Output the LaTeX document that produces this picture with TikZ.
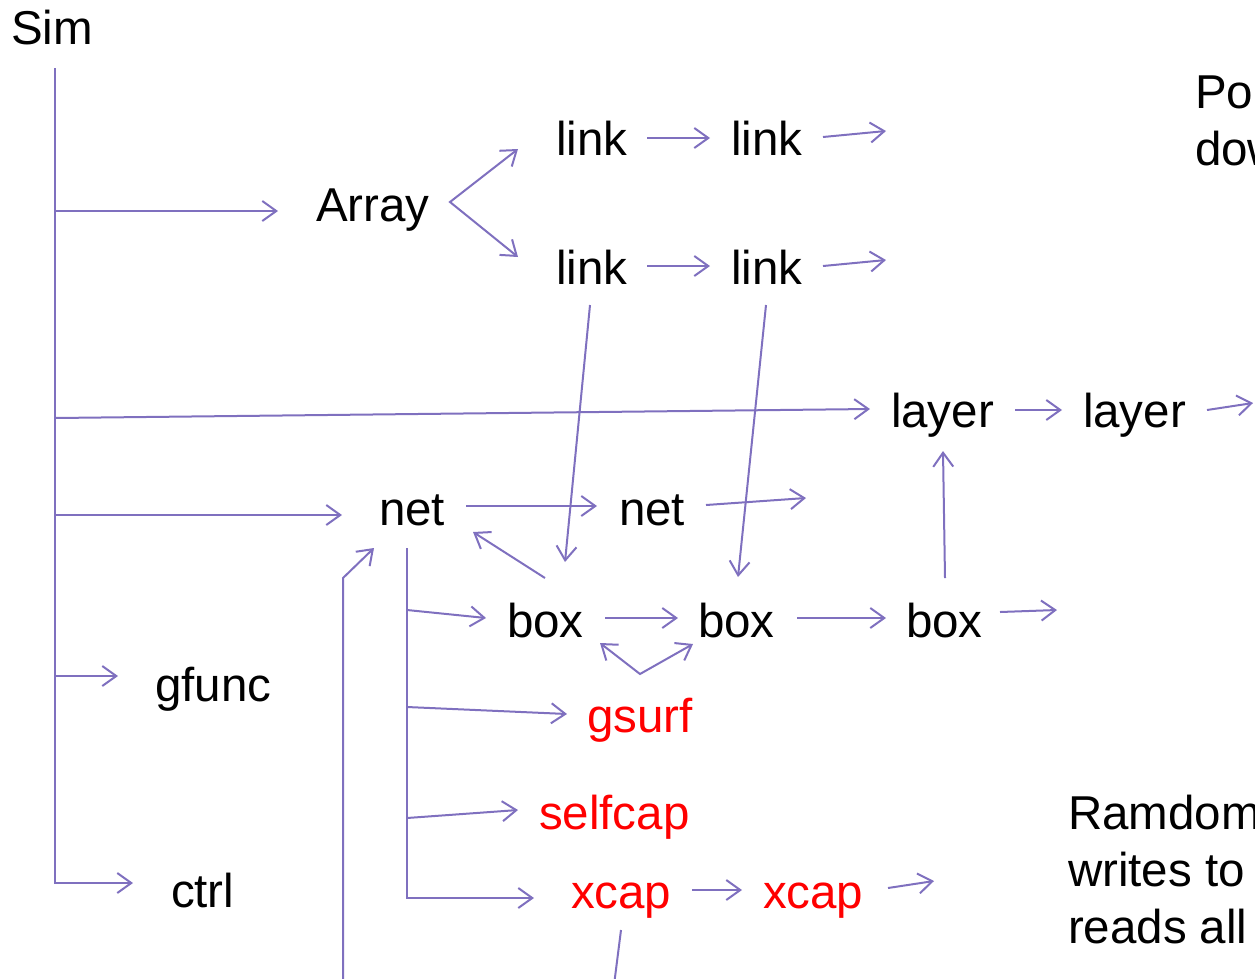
\documentclass[tikz,border=0pt]{standalone}
\usepackage{fontspec}
\setmainfont{Liberation Sans}
\usetikzlibrary{arrows.meta,calc}
\definecolor{lnk}{RGB}{127,112,191}
\begin{document}
\begin{tikzpicture}[x=1pt,y=-1pt,
  lbl/.style={inner sep=0pt,outer sep=0pt,anchor=base west,font=\fontsize{47.5}{57}\selectfont},
  hot/.style={text=red},
  ln/.style={draw=lnk,line width=2pt},
  arr/.style={draw=lnk,line width=2pt,-{Straight Barb[length=14pt,width=20pt]}},
  darr/.style={draw=lnk,line width=2pt,{Straight Barb[length=14pt,width=20pt]}-{Straight Barb[length=14pt,width=20pt]}}]
\useasboundingbox (0,0) rectangle (1255,978);
\clip (0,0) rectangle (1255,978);
% texts
\node[lbl] (sim) at (11,44) {Sim};
\node[lbl] (array) at (316,221) {Array};
\node[lbl] (link1) at (556,155) {link};
\node[lbl] (link2) at (731,155) {link};
\node[lbl] (link3) at (556,284) {link};
\node[lbl] (link4) at (731,284) {link};
\node[lbl] (layer1) at (891,427) {layer};
\node[lbl] (layer2) at (1083,427) {layer};
\node[lbl] (net1) at (379,525) {net};
\node[lbl] (net2) at (619,525) {net};
\node[lbl] (box1) at (507,637) {box};
\node[lbl] (box2) at (698,637) {box};
\node[lbl] (box3) at (906,637) {box};
\node[lbl] (gfunc) at (155,701) {gfunc};
\node[lbl,hot] (gsurf) at (587,732) {gsurf};
\node[lbl,hot] (selfcap) at (539,829) {selfcap};
\node[lbl] (ctrl) at (171,907) {ctrl};
\node[lbl,hot] (xcap1) at (571,908) {xcap};
\node[lbl,hot] (xcap2) at (763,908) {xcap};
\node[lbl] (note1) at (1195,108) {Po};
\node[lbl] (note2) at (1195,165) {dow};
\node[lbl] (note3) at (1068,829) {Ramdom};
\node[lbl] (note4) at (1068,886) {writes to};
\node[lbl] (note5) at (1068,943) {reads all};
% trunk
\coordinate (trunk) at (55,44);
\draw[arr] ($(trunk)+(0,24)$) |- ($(ctrl.base west)+(-38,-24)$);
\draw[arr] ($(trunk)+(0,167)$) -- ($(array.base west)+(-38,-10)$);
\draw[arr] ($(trunk)+(0,374)$) -- ($(layer1.base west)+(-21,-18)$);
\draw[arr] ($(trunk)+(0,471)$) -- ($(net1.base west)+(-37,-10)$);
\draw[arr] ($(trunk)+(0,632)$) -- ($(gfunc.base west)+(-37,-25)$);
% array fork
\draw[darr] ($(link1.base west)+(-38,-6)$) -- ($(array.base west)+(134,-19)$) -- ($(link3.base west)+(-38,-27)$);
% links
\draw[arr] ($(link1.base west)+(91,-17)$) -- ($(link2.base west)+(-21,-17)$);
\draw[arr] ($(link3.base west)+(91,-18)$) -- ($(link4.base west)+(-21,-18)$);
\draw[arr] ($(link2.base west)+(92,-18)$) -- ($(link2.base west)+(155,-24)$);
\draw[arr] ($(link4.base west)+(92,-18)$) -- ($(link4.base west)+(155,-24)$);
\draw[arr] ($(link3.base west)+(34,21)$) -- ($(box1.base west)+(58,-75)$);
\draw[arr] ($(link4.base west)+(35,21)$) -- ($(box2.base west)+(40,-60)$);
% layers
\draw[arr] ($(layer1.base west)+(124,-17)$) -- ($(layer2.base west)+(-21,-17)$);
\draw[arr] ($(layer2.base west)+(124,-17)$) -- ($(layer2.base west)+(170,-24)$);
\draw[arr] ($(box3.base west)+(39,-59)$) -- ($(layer1.base west)+(52,24)$);
% nets
\draw[arr] ($(net1.base west)+(87,-19)$) -- ($(net2.base west)+(-22,-19)$);
\draw[arr] ($(net2.base west)+(87,-20)$) -- ($(net2.base west)+(187,-27)$);
\draw[arr] ($(box1.base west)+(38,-59)$) -- ($(net1.base west)+(94,7)$);
% boxes
\draw[arr] ($(box1.base west)+(98,-19)$) -- ($(box2.base west)+(-20,-19)$);
\draw[arr] ($(box2.base west)+(99,-19)$) -- ($(box3.base west)+(-20,-19)$);
\draw[arr] ($(box3.base west)+(94,-25)$) -- ($(box3.base west)+(151,-27)$);
\draw[darr] ($(box1.base west)+(93,6)$) -- ($(box1.base west)+(133,37)$) -- ($(box2.base west)+(-5,7)$);
% net branch
\draw[arr] ($(net1.base west)+(28,23)$) |- ($(xcap1.base west)+(-37,-10)$);
\draw[arr] ($(net1.base west)+(28,85)$) -- ($(box1.base west)+(-21,-19)$);
\draw[arr] ($(net1.base west)+(28,182)$) -- ($(gsurf.base west)+(-20,-18)$);
\draw[arr] ($(net1.base west)+(28,293)$) -- ($(selfcap.base west)+(-21,-19)$);
\draw[arr] ($(net1.base west)+(-36,470)$) -- ($(net1.base west)+(-36,53)$) -- ($(net1.base west)+(-5,23)$);
% xcaps
\draw[arr] ($(xcap1.base west)+(121,-18)$) -- ($(xcap2.base west)+(-21,-18)$);
\draw[arr] ($(xcap2.base west)+(125,-20)$) -- ($(xcap2.base west)+(171,-27)$);
\draw[ln] ($(xcap1.base west)+(50,22)$) -- ($(xcap1.base west)+(42,85)$);
\end{tikzpicture}
\end{document}
